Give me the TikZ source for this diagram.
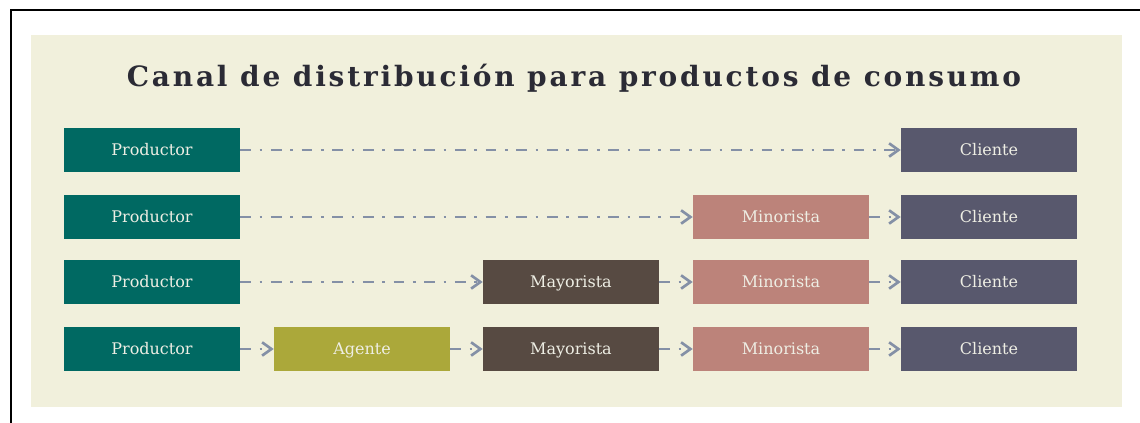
\documentclass[tikz,border=0pt]{standalone}
\usepackage{fontspec}
\setmainfont{DejaVu Serif}
\newfontfamily\titlefont[LetterSpace=10]{DejaVu Serif}
\usetikzlibrary{arrows.meta}

\definecolor{fondo}{HTML}{F1F0DC}
\definecolor{titulo}{HTML}{2B2B35}
\definecolor{flecha}{HTML}{8490A6}
\definecolor{textocaja}{HTML}{EEEEE4}
\definecolor{productor}{HTML}{006962}
\definecolor{agente}{HTML}{ABA83A}
\definecolor{mayorista}{HTML}{574A42}
\definecolor{minorista}{HTML}{BC837A}
\definecolor{cliente}{HTML}{58586D}

\begin{document}
\begin{tikzpicture}[x=0.75pt,y=-0.75pt,
    caja/.style={minimum width=132pt,minimum height=33pt,inner sep=0pt,
      text height=9pt,text depth=1pt,
      text=textocaja,font=\fontsize{12}{14}\selectfont},
    flujo/.style={draw=flecha,line width=2.2pt,
      dash pattern=on 8pt off 6.5pt on 2pt off 6.5pt,
      -{Straight Barb[length=7pt,width=10pt,line width=2pt]}}]
              \useasboundingbox (0,0) rectangle (1140,423);
              \draw[line width=1.5pt] (11,423) -- (11,10) -- (1140,10);
              \fill[fondo] (31,35) rectangle (1122,407);

              \node(T) at (574,78) {\titlefont\bfseries\fontsize{21}{24}\selectfont\color{titulo}Canal de distribución para productos de consumo};

              \node[caja,fill=productor](P1) at (152,150) {Productor};
              \node[caja,fill=cliente](C1) at (989,150) {Cliente};

              \node[caja,fill=productor](P2) at (152,217) {Productor};
              \node[caja,fill=minorista](Mi2) at (781,217) {Minorista};
              \node[caja,fill=cliente](C2) at (989,217) {Cliente};

              \node[caja,fill=productor](P3) at (152,282) {Productor};
              \node[caja,fill=mayorista](Ma3) at (571,282) {Mayorista};
              \node[caja,fill=minorista](Mi3) at (781,282) {Minorista};
              \node[caja,fill=cliente](C3) at (989,282) {Cliente};

              \node[caja,fill=productor](P4) at (152,349) {Productor};
              \node[caja,fill=agente](A4) at (362,349) {Agente};
              \node[caja,fill=mayorista](Ma4) at (571,349) {Mayorista};
              \node[caja,fill=minorista](Mi4) at (781,349) {Minorista};
              \node[caja,fill=cliente](C4) at (989,349) {Cliente};

              \draw[flujo] (P1) -- (C1);
              \draw[flujo] (P2) -- (Mi2);
              \draw[flujo] (Mi2) -- (C2);
              \draw[flujo] (P3) -- (Ma3);
              \draw[flujo] (Ma3) -- (Mi3);
              \draw[flujo] (Mi3) -- (C3);
              \draw[flujo] (P4) -- (A4);
              \draw[flujo] (A4) -- (Ma4);
              \draw[flujo] (Ma4) -- (Mi4);
              \draw[flujo] (Mi4) -- (C4);
             \end{tikzpicture}
\end{document}
